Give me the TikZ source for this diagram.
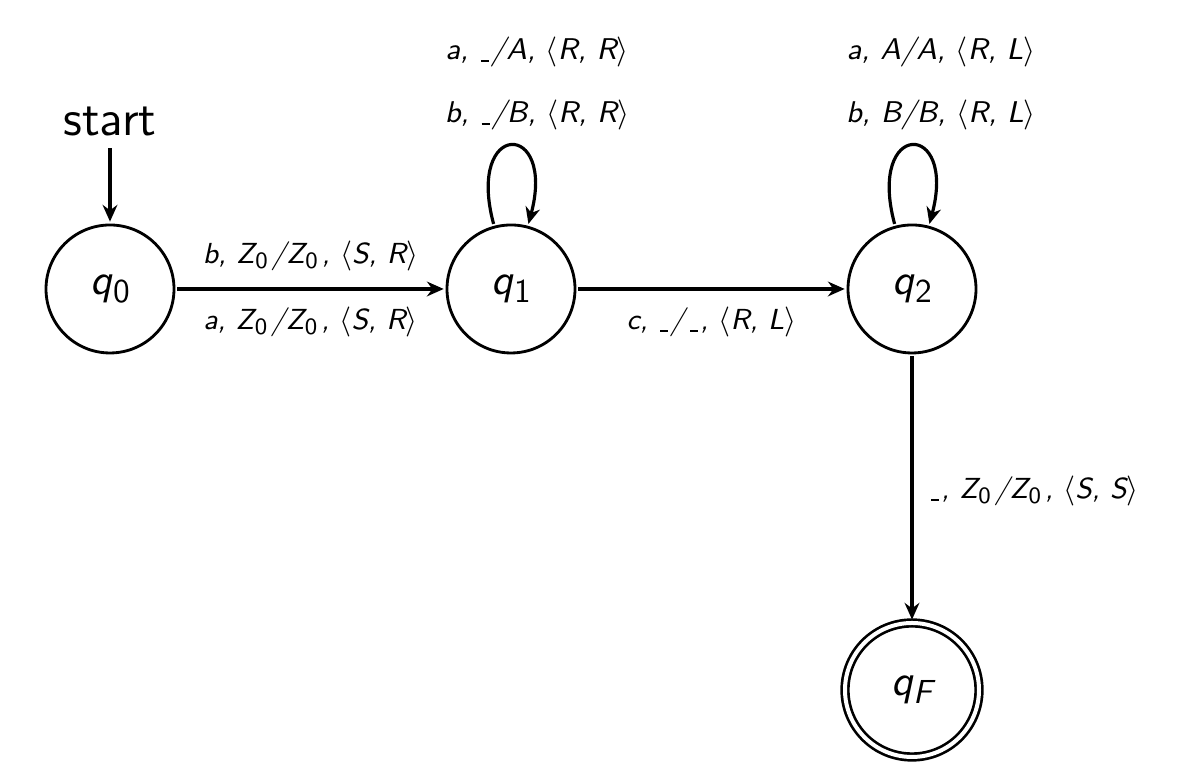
\documentclass[tikz,border=0pt]{standalone}
\usetikzlibrary{arrows.meta}
\renewcommand{\familydefault}{\sfdefault}
\newcommand{\zz}{Z\kern0.2pt\raisebox{-1.4pt}{\fontsize{7}{8}\selectfont\upshape 0}\kern1.2pt}
\newcommand{\us}{\kern0.6pt\rule[-0.7pt]{2.4pt}{0.42pt}\kern0.6pt}
\newcommand{\qs}[1]{{\itshape q\kern0.3pt\raisebox{-2.3pt}{\fontsize{10}{11}\selectfont\upshape #1}}}
\begin{document}
\begin{tikzpicture}[x=0.3pt,y=0.3pt,
  st/.style={circle, draw, line width=0.85pt, minimum size=38.4pt, inner sep=0pt, outer sep=1pt,
             font=\fontsize{13}{15}\selectfont},
  acc/.style={st, minimum size=40.2pt, double, double distance=1.2pt, line width=0.8pt},
  tr/.style={line width=0.95pt, -{Stealth[length=5pt, width=4.4pt, inset=1.6pt]}},
  lab/.style={font=\fontsize{8.7}{10}\selectfont\itshape, inner sep=1pt},
  llab/.style={lab, font=\fontsize{9}{10}\selectfont\itshape}]
\useasboundingbox (0,0) rectangle (1182,783);

\node[st] (q0) at (110,494) {\qs{0}};
\node[st] (q1) at (511,494) {\qs{1}};
\node[st] (q2) at (912,494) {\qs{2}};
\node[acc] (qF) at (912,93) {\qs{\itshape F}};

\node[font=\fontsize{15}{18}\selectfont] (start) at (110,661) {start};
\draw[tr] (start) -- (q0);

\draw[tr] (q0) -- node[lab, midway, yshift=9.9pt] (e1a) {b, \zz/\zz, $\langle$S, R$\rangle$}
                   node[lab, midway, yshift=-9.9pt] (e1b) {a, \zz/\zz, $\langle$S, R$\rangle$} (q1);
\draw[tr] (q1) -- node[lab, midway, yshift=-9.9pt] (e2) {c, \us/\kern1pt\us, $\langle$R, L$\rangle$} (q2);
\draw[tr] (q2) -- node[lab, midway, xshift=36.6pt, yshift=-0.9pt] (e3) {\us, \zz/\zz, $\langle$S, S$\rangle$} (qF);

\draw[tr] (q1.105) .. controls +(105:108) and +(75:108) .. (q1.75);
\node[llab] (l1a) at (537,731) {a, \us/A, $\langle$R, R$\rangle$};
\node[llab] (l1b) at (537,668) {b, \us/B, $\langle$R, R$\rangle$};

\draw[tr] (q2.105) .. controls +(105:108) and +(75:108) .. (q2.75);
\node[llab] (l2a) at (941,731) {a, A/A, $\langle$R, L$\rangle$};
\node[llab] (l2b) at (941,668) {b, B/B, $\langle$R, L$\rangle$};
\end{tikzpicture}
\end{document}
